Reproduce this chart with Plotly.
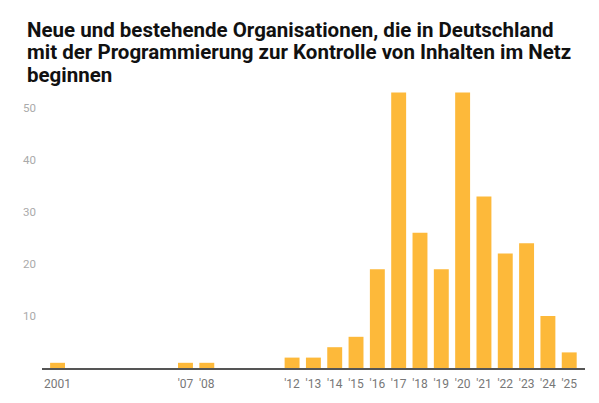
import plotly.graph_objects as go

years = [2001, 2007, 2008, 2012, 2013, 2014, 2015, 2016, 2017, 2018,
         2019, 2020, 2021, 2022, 2023, 2024, 2025]
counts = [1, 1, 1, 2, 2, 4, 6, 19, 53, 26, 19, 53, 33, 22, 24, 10, 3]
tick_years = years
tick_labels = ["2001", "'07", "'08", "'12", "'13", "'14", "'15", "'16", "'17",
               "'18", "'19", "'20", "'21", "'22", "'23", "'24", "'25"]
y_ticks = [10, 20, 30, 40, 50]
title_lines = [
    "Neue und bestehende Organisationen, die in Deutschland",
    "mit der Programmierung zur Kontrolle von Inhalten im Netz",
    "beginnen",
]

fig = go.Figure(go.Bar(
    x=years, y=counts, width=0.7,
    marker=dict(color="#FDB93A", line=dict(width=0)),
    hoverinfo="x+y",
))

W, H = 599, 403
ml, mr, mt, mb = 42, 14, 82, 30
fig.update_layout(
    width=W, height=H,
    margin=dict(l=ml, r=mr, t=mt, b=mb, pad=0),
    paper_bgcolor="white", plot_bgcolor="white",
    font=dict(family="Roboto", size=12, color="#333"),
    showlegend=False,
    xaxis=dict(
        range=[2000.27, 2025.74], tickmode="array",
        tickvals=tick_years, ticktext=tick_labels,
        showgrid=False, zeroline=False, showline=True,
        linecolor="#555", linewidth=1.5, ticks="",
        tickfont=dict(family="Roboto", size=12, color="#777"),
        ticklabelstandoff=4,
    ),
    yaxis=dict(
        range=[0, 55], tickmode="array", tickvals=y_ticks,
        showgrid=False, zeroline=False, showline=False, ticks="",
        tickfont=dict(family="Roboto", size=11.5, color="#aaa"),
        ticklabelstandoff=5,
    ),
)

for i, line in enumerate(title_lines):
    fig.add_annotation(
        text="<b>" + line + "</b>", xref="paper", yref="paper",
        x=-(ml - 25) / (W - ml - mr), xanchor="left",
        y=1 + (mt - (29 + 22.7 * i)) / (H - mt - mb), yanchor="middle",
        showarrow=False, align="left",
        font=dict(family="Roboto", size=20.5, color="#111"),
    )

fig.write_html(
    "out.html",
    config={"displayModeBar": False},
    post_script="document.body.style.margin='0';document.body.style.overflow='hidden';",
)
